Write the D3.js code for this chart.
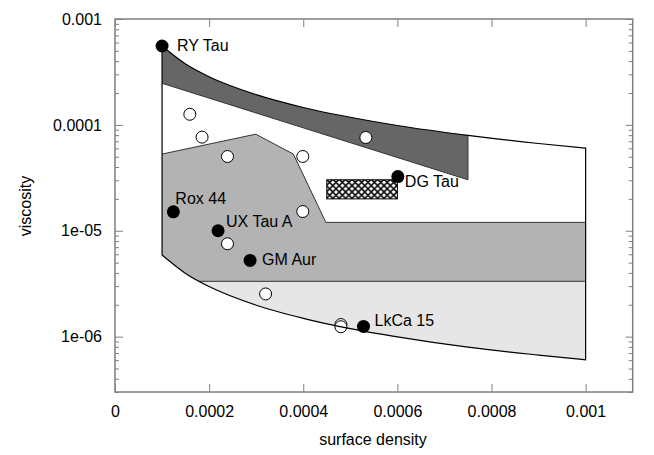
<!DOCTYPE html>
<html>
<head>
<meta charset="utf-8">
<script src="https://cdn.jsdelivr.net/npm/d3@7"></script>
<style>
  body { margin: 0; background: #fff; }
  svg { display: block; font-family: "Liberation Sans", Arial, sans-serif; }
</style>
</head>
<body>
<svg id="chart" width="654" height="455"></svg>
<script>
// viscosity vs surface density, regions

const curveX = [0.0001, 0.00015, 0.0002, 0.0003, 0.0004, 0.0005, 0.0006, 0.00075, 0.0009, 0.001];
const upperNu = [5.56e-4, 3.76e-4, 2.85e-4, 1.93e-4, 1.46e-4, 1.18e-4, 9.87e-5, 7.96e-5, 6.67e-5, 6.03e-5];
const lowerNu = [5.9e-6, 3.95e-6, 2.97e-6, 1.98e-6, 1.49e-6, 1.19e-6, 9.95e-7, 7.95e-7, 6.7e-7, 6.05e-7];

// dark band: under upper curve, lower edge is straight
const darkBand = [[0.0001, 1e-3], [0.00075, 1e-3], [0.00075, 3.03e-5], [0.0001, 2.47e-4]];
const darkEdge = [[0.0001, 2.47e-4], [0.00075, 3.03e-5], [0.00075, 8.0e-5]];

// medium grey polygon, top boundary
const midEdge = [[0.0001, 5.3e-5], [0.000299, 8.17e-5], [0.000379, 5.3e-5], [0.000448, 1.2e-5], [0.001, 1.2e-5]];
const lightLevel = 3.33e-6;

const hatchBox = { x0: 0.00045, x1: 0.0006, y0: 2.0e-5, y1: 3.03e-5 };

const openPts = [
  [0.000159, 1.26e-4], [0.000185, 7.66e-5], [0.000239, 5.03e-5], [0.000399, 5.03e-5],
  [0.000533, 7.6e-5], [0.000399, 1.52e-5], [0.000239, 7.53e-6], [0.00032, 2.53e-6],
  [0.00048, 1.3e-6], [0.00048, 1.24e-6]
];

const stars = ["RY Tau", "Rox 44", "UX Tau A", "GM Aur", "DG Tau", "LkCa 15"];
const starX = [0.0001, 0.000124, 0.000219, 0.000287, 0.000601, 0.000528];
const starNu = [5.56e-4, 1.51e-5, 1.0e-5, 5.25e-6, 3.25e-5, 1.25e-6];
// label offsets in px from the dot
const labelDx = [15, 2, 8, 12, 7, 11];
const labelDy = [5, -8, -4, 5, 10, 0];

const xTicks = [0, 0.0002, 0.0004, 0.0006, 0.0008, 0.001];
const xTickLabels = ["0", "0.0002", "0.0004", "0.0006", "0.0008", "0.001"];
const yTicks = [1e-6, 1e-5, 1e-4, 1e-3];
const yTickLabels = ["1e-06", "1e-05", "0.0001", "0.001"];

const plotL = 115, plotR = 632.7, plotT = 19, plotB = 392;

const svg = d3.select("#chart");
const x = d3.scaleLinear().domain([0, 0.0011]).range([plotL, plotR]);
const y = d3.scaleLog().domain([3e-7, 1e-3]).range([plotB, plotT]);

const defs = svg.append("defs");
const pat = defs.append("pattern")
  .attr("id", "hatch")
  .attr("patternUnits", "userSpaceOnUse")
  .attr("width", 6.4).attr("height", 6.4);
pat.append("rect").attr("width", 6.4).attr("height", 6.4).attr("fill", "#fff");
pat.append("path")
  .attr("d", "M0,0L6.4,6.4M0,6.4L6.4,0M-1,1L1,-1M5.4,7.4L7.4,5.4")
  .attr("stroke", "#000").attr("stroke-width", 1.5);

const line = d3.line().x((d) => x(d[0])).y((d) => y(d[1]));
const smooth = d3.line().x((d) => x(d[0])).y((d) => y(d[1])).curve(d3.curveMonotoneX);

const upper = curveX.map((v, i) => [v, upperNu[i]]);
const lower = curveX.map((v, i) => [v, lowerNu[i]]);

// outer region: upper curve left->right, lower curve right->left
const outerPath = smooth(upper) + "L" + smooth(lower.slice().reverse()).slice(1) + "Z";

defs.append("clipPath").attr("id", "outer").append("path").attr("d", outerPath);

svg.append("path").attr("d", outerPath).attr("fill", "#fff");

const regions = svg.append("g").attr("clip-path", "url(#outer)");

const midPoly = midEdge.concat([[0.001, 3e-7], [0.0001, 3e-7]]);
regions.append("path").attr("d", line(midPoly) + "Z").attr("fill", "#b3b3b3");

regions.append("rect")
  .attr("x", x(0.0001)).attr("width", x(0.001) - x(0.0001))
  .attr("y", y(lightLevel)).attr("height", plotB - y(lightLevel))
  .attr("fill", "#e6e6e6");

regions.append("path").attr("d", line(darkBand) + "Z").attr("fill", "#666");

regions.append("line")
  .attr("x1", x(0.0001)).attr("x2", x(0.001))
  .attr("y1", y(lightLevel)).attr("y2", y(lightLevel))
  .attr("stroke", "#333").attr("stroke-width", 1);

svg.append("rect")
  .attr("x", x(hatchBox.x0)).attr("width", x(hatchBox.x1) - x(hatchBox.x0))
  .attr("y", y(hatchBox.y1)).attr("height", y(hatchBox.y0) - y(hatchBox.y1))
  .attr("fill", "url(#hatch)")
  .attr("stroke", "#000").attr("stroke-width", 1);

svg.selectAll("circle.open")
  .data(openPts)
  .join("circle")
  .attr("class", "open")
  .attr("cx", (d) => x(d[0])).attr("cy", (d) => y(d[1]))
  .attr("r", 6)
  .attr("fill", "#fff").attr("stroke", "#000").attr("stroke-width", 1);

svg.append("path").attr("d", line(midEdge)).attr("fill", "none")
  .attr("stroke", "#333").attr("stroke-width", 1);
svg.append("path").attr("d", line(darkEdge)).attr("fill", "none")
  .attr("stroke", "#333").attr("stroke-width", 1);

svg.append("path").attr("d", outerPath).attr("fill", "none")
  .attr("stroke", "#000").attr("stroke-width", 1.2);

const g = svg.selectAll("g.star").data(stars).join("g").attr("class", "star");
g.append("circle")
  .attr("cx", (d, i) => x(starX[i])).attr("cy", (d, i) => y(starNu[i]))
  .attr("r", 6.5).attr("fill", "#000");
g.append("text")
  .attr("x", (d, i) => x(starX[i]) + labelDx[i])
  .attr("y", (d, i) => y(starNu[i]) + labelDy[i])
  .attr("font-size", 16)
  .text((d) => d);

// axes: ticks point inward
const axisColor = "#808080";
const minor = [];
for (let e = -7; e <= -4; e++) {
  for (let m = 2; m <= 9; m++) {
    const v = m * Math.pow(10, e);
    if (v >= 3e-7 && v < 1e-3) minor.push(v);
  }
}

function styleAxis(sel) {
  sel.attr("font-size", 16).attr("font-family", "Liberation Sans, Arial, sans-serif");
  sel.select(".domain").remove();
  sel.selectAll(".tick line").attr("stroke", axisColor).attr("stroke-width", 1);
  sel.selectAll(".tick text").attr("fill", "#000");
}

svg.append("g").attr("transform", `translate(0,${plotB})`)
  .call(d3.axisBottom(x).tickValues(xTicks).tickSize(-8).tickPadding(14)
    .tickFormat((d, i) => xTickLabels[i]))
  .call(styleAxis);
svg.append("g").attr("transform", `translate(0,${plotT})`)
  .call(d3.axisTop(x).tickValues(xTicks).tickSize(-8).tickFormat(""))
  .call(styleAxis);
svg.append("g").attr("transform", `translate(${plotL},0)`)
  .call(d3.axisLeft(y).tickValues(yTicks).tickSize(-8).tickPadding(13)
    .tickFormat((d, i) => yTickLabels[i]))
  .call(styleAxis);
svg.append("g").attr("transform", `translate(${plotL},0)`)
  .call(d3.axisLeft(y).tickValues(minor).tickSize(-4).tickFormat(""))
  .call(styleAxis);
svg.append("g").attr("transform", `translate(${plotR},0)`)
  .call(d3.axisRight(y).tickValues(yTicks).tickSize(-7).tickFormat(""))
  .call(styleAxis);
svg.append("g").attr("transform", `translate(${plotR},0)`)
  .call(d3.axisRight(y).tickValues(minor).tickSize(-4).tickFormat(""))
  .call(styleAxis);

svg.append("rect")
  .attr("x", plotL).attr("y", plotT)
  .attr("width", plotR - plotL).attr("height", plotB - plotT)
  .attr("fill", "none").attr("stroke", axisColor).attr("stroke-width", 1.5);

svg.append("text")
  .attr("x", 373).attr("y", 445)
  .attr("text-anchor", "middle").attr("font-size", 16)
  .text("surface density");
svg.append("text")
  .attr("transform", "translate(31,206) rotate(-90)")
  .attr("text-anchor", "middle").attr("font-size", 16)
  .text("viscosity");
</script>
</body>
</html>
